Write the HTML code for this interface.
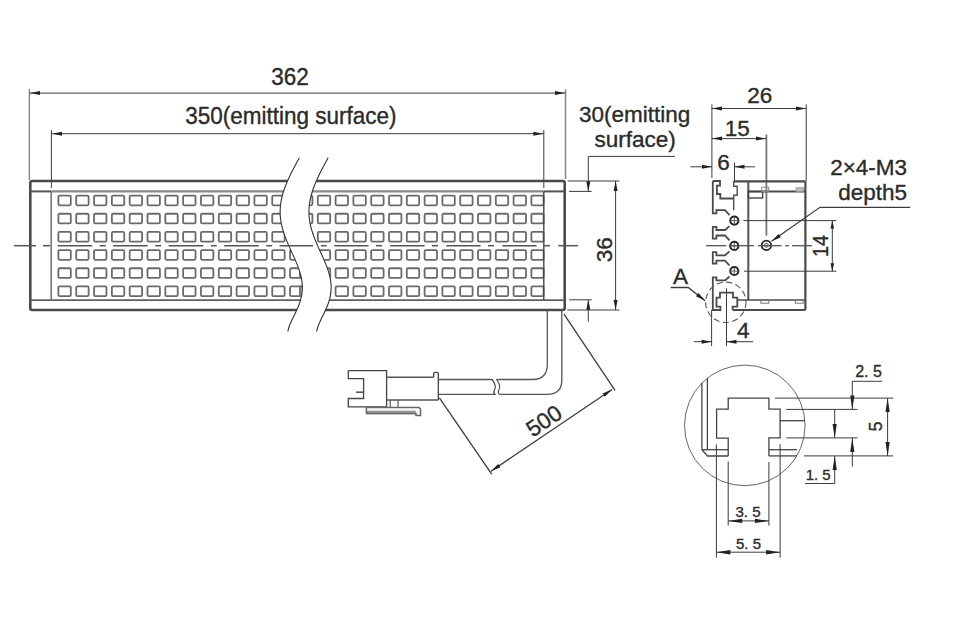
<!DOCTYPE html>
<html><head><meta charset="utf-8"><style>
html,body{margin:0;padding:0;background:#fff;}
svg{display:block;}
text{font-family:"Liberation Sans",sans-serif;}
</style></head><body>
<svg width="957" height="639" viewBox="0 0 957 639">
<rect width="957" height="639" fill="#fff"/>
<line x1="29.30" y1="89.00" x2="29.30" y2="180.00" stroke="#5a5a5a" stroke-width="1.0" />
<line x1="565.50" y1="89.40" x2="565.50" y2="179.00" stroke="#8a8a8a" stroke-width="1.6" />
<line x1="29.30" y1="93.10" x2="565.50" y2="93.10" stroke="#3c3c3c" stroke-width="1.0" />
<path d="M30.00,93.10 L40.00,91.10 L40.00,95.10 Z" fill="#222"/>
<path d="M565.00,93.10 L555.00,95.10 L555.00,91.10 Z" fill="#222"/>
<text transform="translate(290 85.4) scale(1 1.08)" font-size="22.5" text-anchor="middle" fill="#2b2b2b" stroke="#2b2b2b" stroke-width="0.35" >362</text>
<line x1="51.40" y1="130.00" x2="51.40" y2="188.00" stroke="#3c3c3c" stroke-width="1.0" />
<line x1="543.80" y1="130.00" x2="543.80" y2="188.00" stroke="#3c3c3c" stroke-width="1.0" />
<line x1="51.40" y1="133.70" x2="543.80" y2="133.70" stroke="#3c3c3c" stroke-width="1.0" />
<path d="M52.00,133.70 L62.00,131.70 L62.00,135.70 Z" fill="#222"/>
<path d="M543.30,133.70 L533.30,135.70 L533.30,131.70 Z" fill="#222"/>
<text transform="translate(290.8 124.0) scale(1 1.05)" font-size="22.5" text-anchor="middle" fill="#2b2b2b" stroke="#2b2b2b" stroke-width="0.35" >350(emitting surface)</text>
<rect x="58.40" y="195.60" width="12.40" height="9.7" rx="1.2" fill="none" stroke="#6a6a6a" stroke-width="1.8"/>
<rect x="76.22" y="195.60" width="12.40" height="9.7" rx="1.2" fill="none" stroke="#6a6a6a" stroke-width="1.8"/>
<rect x="94.04" y="195.60" width="12.40" height="9.7" rx="1.2" fill="none" stroke="#6a6a6a" stroke-width="1.8"/>
<rect x="111.86" y="195.60" width="12.40" height="9.7" rx="1.2" fill="none" stroke="#6a6a6a" stroke-width="1.8"/>
<rect x="129.68" y="195.60" width="12.40" height="9.7" rx="1.2" fill="none" stroke="#6a6a6a" stroke-width="1.8"/>
<rect x="147.50" y="195.60" width="12.40" height="9.7" rx="1.2" fill="none" stroke="#6a6a6a" stroke-width="1.8"/>
<rect x="165.32" y="195.60" width="12.40" height="9.7" rx="1.2" fill="none" stroke="#6a6a6a" stroke-width="1.8"/>
<rect x="183.14" y="195.60" width="12.40" height="9.7" rx="1.2" fill="none" stroke="#6a6a6a" stroke-width="1.8"/>
<rect x="200.96" y="195.60" width="12.40" height="9.7" rx="1.2" fill="none" stroke="#6a6a6a" stroke-width="1.8"/>
<rect x="218.78" y="195.60" width="12.40" height="9.7" rx="1.2" fill="none" stroke="#6a6a6a" stroke-width="1.8"/>
<rect x="236.60" y="195.60" width="12.40" height="9.7" rx="1.2" fill="none" stroke="#6a6a6a" stroke-width="1.8"/>
<rect x="254.42" y="195.60" width="12.40" height="9.7" rx="1.2" fill="none" stroke="#6a6a6a" stroke-width="1.8"/>
<rect x="272.24" y="195.60" width="12.40" height="9.7" rx="1.2" fill="none" stroke="#6a6a6a" stroke-width="1.8"/>
<rect x="290.06" y="195.60" width="12.40" height="9.7" rx="1.2" fill="none" stroke="#6a6a6a" stroke-width="1.8"/>
<rect x="300.00" y="195.60" width="12.40" height="9.7" rx="1.2" fill="none" stroke="#6a6a6a" stroke-width="1.8"/>
<rect x="317.80" y="195.60" width="12.40" height="9.7" rx="1.2" fill="none" stroke="#6a6a6a" stroke-width="1.8"/>
<rect x="335.60" y="195.60" width="12.40" height="9.7" rx="1.2" fill="none" stroke="#6a6a6a" stroke-width="1.8"/>
<rect x="353.40" y="195.60" width="12.40" height="9.7" rx="1.2" fill="none" stroke="#6a6a6a" stroke-width="1.8"/>
<rect x="371.20" y="195.60" width="12.40" height="9.7" rx="1.2" fill="none" stroke="#6a6a6a" stroke-width="1.8"/>
<rect x="389.00" y="195.60" width="12.40" height="9.7" rx="1.2" fill="none" stroke="#6a6a6a" stroke-width="1.8"/>
<rect x="406.80" y="195.60" width="12.40" height="9.7" rx="1.2" fill="none" stroke="#6a6a6a" stroke-width="1.8"/>
<rect x="424.60" y="195.60" width="12.40" height="9.7" rx="1.2" fill="none" stroke="#6a6a6a" stroke-width="1.8"/>
<rect x="442.40" y="195.60" width="12.40" height="9.7" rx="1.2" fill="none" stroke="#6a6a6a" stroke-width="1.8"/>
<rect x="460.20" y="195.60" width="12.40" height="9.7" rx="1.2" fill="none" stroke="#6a6a6a" stroke-width="1.8"/>
<rect x="478.00" y="195.60" width="12.40" height="9.7" rx="1.2" fill="none" stroke="#6a6a6a" stroke-width="1.8"/>
<rect x="495.80" y="195.60" width="12.40" height="9.7" rx="1.2" fill="none" stroke="#6a6a6a" stroke-width="1.8"/>
<rect x="513.60" y="195.60" width="12.40" height="9.7" rx="1.2" fill="none" stroke="#6a6a6a" stroke-width="1.8"/>
<rect x="531.40" y="195.60" width="12.20" height="9.7" rx="1.2" fill="none" stroke="#6a6a6a" stroke-width="1.8"/>
<rect x="58.40" y="213.76" width="12.40" height="9.7" rx="1.2" fill="none" stroke="#6a6a6a" stroke-width="1.8"/>
<rect x="76.22" y="213.76" width="12.40" height="9.7" rx="1.2" fill="none" stroke="#6a6a6a" stroke-width="1.8"/>
<rect x="94.04" y="213.76" width="12.40" height="9.7" rx="1.2" fill="none" stroke="#6a6a6a" stroke-width="1.8"/>
<rect x="111.86" y="213.76" width="12.40" height="9.7" rx="1.2" fill="none" stroke="#6a6a6a" stroke-width="1.8"/>
<rect x="129.68" y="213.76" width="12.40" height="9.7" rx="1.2" fill="none" stroke="#6a6a6a" stroke-width="1.8"/>
<rect x="147.50" y="213.76" width="12.40" height="9.7" rx="1.2" fill="none" stroke="#6a6a6a" stroke-width="1.8"/>
<rect x="165.32" y="213.76" width="12.40" height="9.7" rx="1.2" fill="none" stroke="#6a6a6a" stroke-width="1.8"/>
<rect x="183.14" y="213.76" width="12.40" height="9.7" rx="1.2" fill="none" stroke="#6a6a6a" stroke-width="1.8"/>
<rect x="200.96" y="213.76" width="12.40" height="9.7" rx="1.2" fill="none" stroke="#6a6a6a" stroke-width="1.8"/>
<rect x="218.78" y="213.76" width="12.40" height="9.7" rx="1.2" fill="none" stroke="#6a6a6a" stroke-width="1.8"/>
<rect x="236.60" y="213.76" width="12.40" height="9.7" rx="1.2" fill="none" stroke="#6a6a6a" stroke-width="1.8"/>
<rect x="254.42" y="213.76" width="12.40" height="9.7" rx="1.2" fill="none" stroke="#6a6a6a" stroke-width="1.8"/>
<rect x="272.24" y="213.76" width="12.40" height="9.7" rx="1.2" fill="none" stroke="#6a6a6a" stroke-width="1.8"/>
<rect x="290.06" y="213.76" width="12.40" height="9.7" rx="1.2" fill="none" stroke="#6a6a6a" stroke-width="1.8"/>
<rect x="300.00" y="213.76" width="12.40" height="9.7" rx="1.2" fill="none" stroke="#6a6a6a" stroke-width="1.8"/>
<rect x="317.80" y="213.76" width="12.40" height="9.7" rx="1.2" fill="none" stroke="#6a6a6a" stroke-width="1.8"/>
<rect x="335.60" y="213.76" width="12.40" height="9.7" rx="1.2" fill="none" stroke="#6a6a6a" stroke-width="1.8"/>
<rect x="353.40" y="213.76" width="12.40" height="9.7" rx="1.2" fill="none" stroke="#6a6a6a" stroke-width="1.8"/>
<rect x="371.20" y="213.76" width="12.40" height="9.7" rx="1.2" fill="none" stroke="#6a6a6a" stroke-width="1.8"/>
<rect x="389.00" y="213.76" width="12.40" height="9.7" rx="1.2" fill="none" stroke="#6a6a6a" stroke-width="1.8"/>
<rect x="406.80" y="213.76" width="12.40" height="9.7" rx="1.2" fill="none" stroke="#6a6a6a" stroke-width="1.8"/>
<rect x="424.60" y="213.76" width="12.40" height="9.7" rx="1.2" fill="none" stroke="#6a6a6a" stroke-width="1.8"/>
<rect x="442.40" y="213.76" width="12.40" height="9.7" rx="1.2" fill="none" stroke="#6a6a6a" stroke-width="1.8"/>
<rect x="460.20" y="213.76" width="12.40" height="9.7" rx="1.2" fill="none" stroke="#6a6a6a" stroke-width="1.8"/>
<rect x="478.00" y="213.76" width="12.40" height="9.7" rx="1.2" fill="none" stroke="#6a6a6a" stroke-width="1.8"/>
<rect x="495.80" y="213.76" width="12.40" height="9.7" rx="1.2" fill="none" stroke="#6a6a6a" stroke-width="1.8"/>
<rect x="513.60" y="213.76" width="12.40" height="9.7" rx="1.2" fill="none" stroke="#6a6a6a" stroke-width="1.8"/>
<rect x="531.40" y="213.76" width="12.20" height="9.7" rx="1.2" fill="none" stroke="#6a6a6a" stroke-width="1.8"/>
<rect x="58.40" y="231.92" width="12.40" height="9.7" rx="1.2" fill="none" stroke="#6a6a6a" stroke-width="1.8"/>
<rect x="76.22" y="231.92" width="12.40" height="9.7" rx="1.2" fill="none" stroke="#6a6a6a" stroke-width="1.8"/>
<rect x="94.04" y="231.92" width="12.40" height="9.7" rx="1.2" fill="none" stroke="#6a6a6a" stroke-width="1.8"/>
<rect x="111.86" y="231.92" width="12.40" height="9.7" rx="1.2" fill="none" stroke="#6a6a6a" stroke-width="1.8"/>
<rect x="129.68" y="231.92" width="12.40" height="9.7" rx="1.2" fill="none" stroke="#6a6a6a" stroke-width="1.8"/>
<rect x="147.50" y="231.92" width="12.40" height="9.7" rx="1.2" fill="none" stroke="#6a6a6a" stroke-width="1.8"/>
<rect x="165.32" y="231.92" width="12.40" height="9.7" rx="1.2" fill="none" stroke="#6a6a6a" stroke-width="1.8"/>
<rect x="183.14" y="231.92" width="12.40" height="9.7" rx="1.2" fill="none" stroke="#6a6a6a" stroke-width="1.8"/>
<rect x="200.96" y="231.92" width="12.40" height="9.7" rx="1.2" fill="none" stroke="#6a6a6a" stroke-width="1.8"/>
<rect x="218.78" y="231.92" width="12.40" height="9.7" rx="1.2" fill="none" stroke="#6a6a6a" stroke-width="1.8"/>
<rect x="236.60" y="231.92" width="12.40" height="9.7" rx="1.2" fill="none" stroke="#6a6a6a" stroke-width="1.8"/>
<rect x="254.42" y="231.92" width="12.40" height="9.7" rx="1.2" fill="none" stroke="#6a6a6a" stroke-width="1.8"/>
<rect x="272.24" y="231.92" width="12.40" height="9.7" rx="1.2" fill="none" stroke="#6a6a6a" stroke-width="1.8"/>
<rect x="290.06" y="231.92" width="12.40" height="9.7" rx="1.2" fill="none" stroke="#6a6a6a" stroke-width="1.8"/>
<rect x="300.00" y="231.92" width="12.40" height="9.7" rx="1.2" fill="none" stroke="#6a6a6a" stroke-width="1.8"/>
<rect x="317.80" y="231.92" width="12.40" height="9.7" rx="1.2" fill="none" stroke="#6a6a6a" stroke-width="1.8"/>
<rect x="335.60" y="231.92" width="12.40" height="9.7" rx="1.2" fill="none" stroke="#6a6a6a" stroke-width="1.8"/>
<rect x="353.40" y="231.92" width="12.40" height="9.7" rx="1.2" fill="none" stroke="#6a6a6a" stroke-width="1.8"/>
<rect x="371.20" y="231.92" width="12.40" height="9.7" rx="1.2" fill="none" stroke="#6a6a6a" stroke-width="1.8"/>
<rect x="389.00" y="231.92" width="12.40" height="9.7" rx="1.2" fill="none" stroke="#6a6a6a" stroke-width="1.8"/>
<rect x="406.80" y="231.92" width="12.40" height="9.7" rx="1.2" fill="none" stroke="#6a6a6a" stroke-width="1.8"/>
<rect x="424.60" y="231.92" width="12.40" height="9.7" rx="1.2" fill="none" stroke="#6a6a6a" stroke-width="1.8"/>
<rect x="442.40" y="231.92" width="12.40" height="9.7" rx="1.2" fill="none" stroke="#6a6a6a" stroke-width="1.8"/>
<rect x="460.20" y="231.92" width="12.40" height="9.7" rx="1.2" fill="none" stroke="#6a6a6a" stroke-width="1.8"/>
<rect x="478.00" y="231.92" width="12.40" height="9.7" rx="1.2" fill="none" stroke="#6a6a6a" stroke-width="1.8"/>
<rect x="495.80" y="231.92" width="12.40" height="9.7" rx="1.2" fill="none" stroke="#6a6a6a" stroke-width="1.8"/>
<rect x="513.60" y="231.92" width="12.40" height="9.7" rx="1.2" fill="none" stroke="#6a6a6a" stroke-width="1.8"/>
<rect x="531.40" y="231.92" width="12.20" height="9.7" rx="1.2" fill="none" stroke="#6a6a6a" stroke-width="1.8"/>
<rect x="58.40" y="250.08" width="12.40" height="9.7" rx="1.2" fill="none" stroke="#6a6a6a" stroke-width="1.8"/>
<rect x="76.22" y="250.08" width="12.40" height="9.7" rx="1.2" fill="none" stroke="#6a6a6a" stroke-width="1.8"/>
<rect x="94.04" y="250.08" width="12.40" height="9.7" rx="1.2" fill="none" stroke="#6a6a6a" stroke-width="1.8"/>
<rect x="111.86" y="250.08" width="12.40" height="9.7" rx="1.2" fill="none" stroke="#6a6a6a" stroke-width="1.8"/>
<rect x="129.68" y="250.08" width="12.40" height="9.7" rx="1.2" fill="none" stroke="#6a6a6a" stroke-width="1.8"/>
<rect x="147.50" y="250.08" width="12.40" height="9.7" rx="1.2" fill="none" stroke="#6a6a6a" stroke-width="1.8"/>
<rect x="165.32" y="250.08" width="12.40" height="9.7" rx="1.2" fill="none" stroke="#6a6a6a" stroke-width="1.8"/>
<rect x="183.14" y="250.08" width="12.40" height="9.7" rx="1.2" fill="none" stroke="#6a6a6a" stroke-width="1.8"/>
<rect x="200.96" y="250.08" width="12.40" height="9.7" rx="1.2" fill="none" stroke="#6a6a6a" stroke-width="1.8"/>
<rect x="218.78" y="250.08" width="12.40" height="9.7" rx="1.2" fill="none" stroke="#6a6a6a" stroke-width="1.8"/>
<rect x="236.60" y="250.08" width="12.40" height="9.7" rx="1.2" fill="none" stroke="#6a6a6a" stroke-width="1.8"/>
<rect x="254.42" y="250.08" width="12.40" height="9.7" rx="1.2" fill="none" stroke="#6a6a6a" stroke-width="1.8"/>
<rect x="272.24" y="250.08" width="12.40" height="9.7" rx="1.2" fill="none" stroke="#6a6a6a" stroke-width="1.8"/>
<rect x="290.06" y="250.08" width="12.40" height="9.7" rx="1.2" fill="none" stroke="#6a6a6a" stroke-width="1.8"/>
<rect x="300.00" y="250.08" width="12.40" height="9.7" rx="1.2" fill="none" stroke="#6a6a6a" stroke-width="1.8"/>
<rect x="317.80" y="250.08" width="12.40" height="9.7" rx="1.2" fill="none" stroke="#6a6a6a" stroke-width="1.8"/>
<rect x="335.60" y="250.08" width="12.40" height="9.7" rx="1.2" fill="none" stroke="#6a6a6a" stroke-width="1.8"/>
<rect x="353.40" y="250.08" width="12.40" height="9.7" rx="1.2" fill="none" stroke="#6a6a6a" stroke-width="1.8"/>
<rect x="371.20" y="250.08" width="12.40" height="9.7" rx="1.2" fill="none" stroke="#6a6a6a" stroke-width="1.8"/>
<rect x="389.00" y="250.08" width="12.40" height="9.7" rx="1.2" fill="none" stroke="#6a6a6a" stroke-width="1.8"/>
<rect x="406.80" y="250.08" width="12.40" height="9.7" rx="1.2" fill="none" stroke="#6a6a6a" stroke-width="1.8"/>
<rect x="424.60" y="250.08" width="12.40" height="9.7" rx="1.2" fill="none" stroke="#6a6a6a" stroke-width="1.8"/>
<rect x="442.40" y="250.08" width="12.40" height="9.7" rx="1.2" fill="none" stroke="#6a6a6a" stroke-width="1.8"/>
<rect x="460.20" y="250.08" width="12.40" height="9.7" rx="1.2" fill="none" stroke="#6a6a6a" stroke-width="1.8"/>
<rect x="478.00" y="250.08" width="12.40" height="9.7" rx="1.2" fill="none" stroke="#6a6a6a" stroke-width="1.8"/>
<rect x="495.80" y="250.08" width="12.40" height="9.7" rx="1.2" fill="none" stroke="#6a6a6a" stroke-width="1.8"/>
<rect x="513.60" y="250.08" width="12.40" height="9.7" rx="1.2" fill="none" stroke="#6a6a6a" stroke-width="1.8"/>
<rect x="531.40" y="250.08" width="12.20" height="9.7" rx="1.2" fill="none" stroke="#6a6a6a" stroke-width="1.8"/>
<rect x="58.40" y="268.24" width="12.40" height="9.7" rx="1.2" fill="none" stroke="#6a6a6a" stroke-width="1.8"/>
<rect x="76.22" y="268.24" width="12.40" height="9.7" rx="1.2" fill="none" stroke="#6a6a6a" stroke-width="1.8"/>
<rect x="94.04" y="268.24" width="12.40" height="9.7" rx="1.2" fill="none" stroke="#6a6a6a" stroke-width="1.8"/>
<rect x="111.86" y="268.24" width="12.40" height="9.7" rx="1.2" fill="none" stroke="#6a6a6a" stroke-width="1.8"/>
<rect x="129.68" y="268.24" width="12.40" height="9.7" rx="1.2" fill="none" stroke="#6a6a6a" stroke-width="1.8"/>
<rect x="147.50" y="268.24" width="12.40" height="9.7" rx="1.2" fill="none" stroke="#6a6a6a" stroke-width="1.8"/>
<rect x="165.32" y="268.24" width="12.40" height="9.7" rx="1.2" fill="none" stroke="#6a6a6a" stroke-width="1.8"/>
<rect x="183.14" y="268.24" width="12.40" height="9.7" rx="1.2" fill="none" stroke="#6a6a6a" stroke-width="1.8"/>
<rect x="200.96" y="268.24" width="12.40" height="9.7" rx="1.2" fill="none" stroke="#6a6a6a" stroke-width="1.8"/>
<rect x="218.78" y="268.24" width="12.40" height="9.7" rx="1.2" fill="none" stroke="#6a6a6a" stroke-width="1.8"/>
<rect x="236.60" y="268.24" width="12.40" height="9.7" rx="1.2" fill="none" stroke="#6a6a6a" stroke-width="1.8"/>
<rect x="254.42" y="268.24" width="12.40" height="9.7" rx="1.2" fill="none" stroke="#6a6a6a" stroke-width="1.8"/>
<rect x="272.24" y="268.24" width="12.40" height="9.7" rx="1.2" fill="none" stroke="#6a6a6a" stroke-width="1.8"/>
<rect x="290.06" y="268.24" width="12.40" height="9.7" rx="1.2" fill="none" stroke="#6a6a6a" stroke-width="1.8"/>
<rect x="300.00" y="268.24" width="12.40" height="9.7" rx="1.2" fill="none" stroke="#6a6a6a" stroke-width="1.8"/>
<rect x="317.80" y="268.24" width="12.40" height="9.7" rx="1.2" fill="none" stroke="#6a6a6a" stroke-width="1.8"/>
<rect x="335.60" y="268.24" width="12.40" height="9.7" rx="1.2" fill="none" stroke="#6a6a6a" stroke-width="1.8"/>
<rect x="353.40" y="268.24" width="12.40" height="9.7" rx="1.2" fill="none" stroke="#6a6a6a" stroke-width="1.8"/>
<rect x="371.20" y="268.24" width="12.40" height="9.7" rx="1.2" fill="none" stroke="#6a6a6a" stroke-width="1.8"/>
<rect x="389.00" y="268.24" width="12.40" height="9.7" rx="1.2" fill="none" stroke="#6a6a6a" stroke-width="1.8"/>
<rect x="406.80" y="268.24" width="12.40" height="9.7" rx="1.2" fill="none" stroke="#6a6a6a" stroke-width="1.8"/>
<rect x="424.60" y="268.24" width="12.40" height="9.7" rx="1.2" fill="none" stroke="#6a6a6a" stroke-width="1.8"/>
<rect x="442.40" y="268.24" width="12.40" height="9.7" rx="1.2" fill="none" stroke="#6a6a6a" stroke-width="1.8"/>
<rect x="460.20" y="268.24" width="12.40" height="9.7" rx="1.2" fill="none" stroke="#6a6a6a" stroke-width="1.8"/>
<rect x="478.00" y="268.24" width="12.40" height="9.7" rx="1.2" fill="none" stroke="#6a6a6a" stroke-width="1.8"/>
<rect x="495.80" y="268.24" width="12.40" height="9.7" rx="1.2" fill="none" stroke="#6a6a6a" stroke-width="1.8"/>
<rect x="513.60" y="268.24" width="12.40" height="9.7" rx="1.2" fill="none" stroke="#6a6a6a" stroke-width="1.8"/>
<rect x="531.40" y="268.24" width="12.20" height="9.7" rx="1.2" fill="none" stroke="#6a6a6a" stroke-width="1.8"/>
<rect x="58.40" y="286.40" width="12.40" height="9.7" rx="1.2" fill="none" stroke="#6a6a6a" stroke-width="1.8"/>
<rect x="76.22" y="286.40" width="12.40" height="9.7" rx="1.2" fill="none" stroke="#6a6a6a" stroke-width="1.8"/>
<rect x="94.04" y="286.40" width="12.40" height="9.7" rx="1.2" fill="none" stroke="#6a6a6a" stroke-width="1.8"/>
<rect x="111.86" y="286.40" width="12.40" height="9.7" rx="1.2" fill="none" stroke="#6a6a6a" stroke-width="1.8"/>
<rect x="129.68" y="286.40" width="12.40" height="9.7" rx="1.2" fill="none" stroke="#6a6a6a" stroke-width="1.8"/>
<rect x="147.50" y="286.40" width="12.40" height="9.7" rx="1.2" fill="none" stroke="#6a6a6a" stroke-width="1.8"/>
<rect x="165.32" y="286.40" width="12.40" height="9.7" rx="1.2" fill="none" stroke="#6a6a6a" stroke-width="1.8"/>
<rect x="183.14" y="286.40" width="12.40" height="9.7" rx="1.2" fill="none" stroke="#6a6a6a" stroke-width="1.8"/>
<rect x="200.96" y="286.40" width="12.40" height="9.7" rx="1.2" fill="none" stroke="#6a6a6a" stroke-width="1.8"/>
<rect x="218.78" y="286.40" width="12.40" height="9.7" rx="1.2" fill="none" stroke="#6a6a6a" stroke-width="1.8"/>
<rect x="236.60" y="286.40" width="12.40" height="9.7" rx="1.2" fill="none" stroke="#6a6a6a" stroke-width="1.8"/>
<rect x="254.42" y="286.40" width="12.40" height="9.7" rx="1.2" fill="none" stroke="#6a6a6a" stroke-width="1.8"/>
<rect x="272.24" y="286.40" width="12.40" height="9.7" rx="1.2" fill="none" stroke="#6a6a6a" stroke-width="1.8"/>
<rect x="290.06" y="286.40" width="12.40" height="9.7" rx="1.2" fill="none" stroke="#6a6a6a" stroke-width="1.8"/>
<rect x="300.00" y="286.40" width="12.40" height="9.7" rx="1.2" fill="none" stroke="#6a6a6a" stroke-width="1.8"/>
<rect x="317.80" y="286.40" width="12.40" height="9.7" rx="1.2" fill="none" stroke="#6a6a6a" stroke-width="1.8"/>
<rect x="335.60" y="286.40" width="12.40" height="9.7" rx="1.2" fill="none" stroke="#6a6a6a" stroke-width="1.8"/>
<rect x="353.40" y="286.40" width="12.40" height="9.7" rx="1.2" fill="none" stroke="#6a6a6a" stroke-width="1.8"/>
<rect x="371.20" y="286.40" width="12.40" height="9.7" rx="1.2" fill="none" stroke="#6a6a6a" stroke-width="1.8"/>
<rect x="389.00" y="286.40" width="12.40" height="9.7" rx="1.2" fill="none" stroke="#6a6a6a" stroke-width="1.8"/>
<rect x="406.80" y="286.40" width="12.40" height="9.7" rx="1.2" fill="none" stroke="#6a6a6a" stroke-width="1.8"/>
<rect x="424.60" y="286.40" width="12.40" height="9.7" rx="1.2" fill="none" stroke="#6a6a6a" stroke-width="1.8"/>
<rect x="442.40" y="286.40" width="12.40" height="9.7" rx="1.2" fill="none" stroke="#6a6a6a" stroke-width="1.8"/>
<rect x="460.20" y="286.40" width="12.40" height="9.7" rx="1.2" fill="none" stroke="#6a6a6a" stroke-width="1.8"/>
<rect x="478.00" y="286.40" width="12.40" height="9.7" rx="1.2" fill="none" stroke="#6a6a6a" stroke-width="1.8"/>
<rect x="495.80" y="286.40" width="12.40" height="9.7" rx="1.2" fill="none" stroke="#6a6a6a" stroke-width="1.8"/>
<rect x="513.60" y="286.40" width="12.40" height="9.7" rx="1.2" fill="none" stroke="#6a6a6a" stroke-width="1.8"/>
<rect x="531.40" y="286.40" width="12.20" height="9.7" rx="1.2" fill="none" stroke="#6a6a6a" stroke-width="1.8"/>
<path d="M30.3,183 Q30.3,181 32.3,181 L562.7,181 Q564.7,181 564.7,183 L564.7,308 Q564.7,310 562.7,310 L32.3,310 Q30.3,310 30.3,308 Z" stroke="#4a4a4a" stroke-width="2.6" fill="none" />
<line x1="30.30" y1="191.40" x2="51.20" y2="191.40" stroke="#555" stroke-width="2.0" />
<line x1="51.20" y1="191.40" x2="543.80" y2="191.40" stroke="#8a8a8a" stroke-width="2.2" />
<line x1="543.80" y1="191.40" x2="564.70" y2="191.40" stroke="#555" stroke-width="2.0" />
<line x1="30.30" y1="300.10" x2="564.70" y2="300.10" stroke="#606060" stroke-width="1.9" />
<line x1="51.20" y1="191.40" x2="51.20" y2="300.10" stroke="#707070" stroke-width="1.5" />
<line x1="543.80" y1="191.40" x2="543.80" y2="300.10" stroke="#444" stroke-width="1.4" />
<path d="M299.39,157.80 C298.84,158.80 297.15,161.79 296.07,163.79 C294.99,165.79 293.93,167.78 292.90,169.78 C291.88,171.78 290.88,173.77 289.93,175.77 C288.98,177.77 288.06,179.76 287.21,181.76 C286.35,183.76 285.55,185.75 284.82,187.75 C284.09,189.74 283.43,191.74 282.85,193.74 C282.28,195.73 281.78,197.73 281.38,199.73 C280.98,201.72 280.67,203.72 280.46,205.72 C280.25,207.71 280.14,209.71 280.14,211.71 C280.13,213.70 280.23,215.70 280.43,217.70 C280.63,219.69 280.93,221.69 281.32,223.69 C281.71,225.68 282.21,227.68 282.78,229.68 C283.34,231.67 284.01,233.67 284.72,235.67 C285.44,237.66 286.24,239.66 287.06,241.66 C287.89,243.65 288.78,245.65 289.67,247.64 C290.56,249.64 291.50,251.64 292.40,253.63 C293.31,255.63 294.24,257.63 295.10,259.62 C295.96,261.62 296.82,263.62 297.59,265.61 C298.35,267.61 299.08,269.61 299.69,271.60 C300.31,273.60 300.85,275.60 301.27,277.59 C301.68,279.59 302.00,281.59 302.17,283.58 C302.34,285.58 302.39,287.58 302.29,289.57 C302.20,291.57 301.96,293.57 301.59,295.56 C301.22,297.56 300.70,299.56 300.08,301.55 C299.45,303.55 298.68,305.54 297.85,307.54 C297.02,309.54 296.05,311.53 295.10,313.53 C294.16,315.53 293.10,317.52 292.17,319.52 C291.24,321.52 290.25,323.51 289.51,325.51 C288.78,327.51 288.06,330.50 287.77,331.50 L316.57,331.50 C316.86,330.50 317.58,327.51 318.31,325.51 C319.05,323.51 320.04,321.52 320.97,319.52 C321.90,317.52 322.96,315.53 323.90,313.53 C324.85,311.53 325.82,309.54 326.65,307.54 C327.48,305.54 328.25,303.55 328.88,301.55 C329.50,299.56 330.02,297.56 330.39,295.56 C330.76,293.57 331.00,291.57 331.09,289.57 C331.19,287.58 331.14,285.58 330.97,283.58 C330.80,281.59 330.48,279.59 330.07,277.59 C329.65,275.60 329.11,273.60 328.49,271.60 C327.88,269.61 327.15,267.61 326.39,265.61 C325.62,263.62 324.76,261.62 323.90,259.62 C323.04,257.63 322.11,255.63 321.20,253.63 C320.30,251.64 319.36,249.64 318.47,247.64 C317.58,245.65 316.69,243.65 315.86,241.66 C315.04,239.66 314.24,237.66 313.52,235.67 C312.81,233.67 312.14,231.67 311.58,229.68 C311.01,227.68 310.51,225.68 310.12,223.69 C309.73,221.69 309.43,219.69 309.23,217.70 C309.03,215.70 308.93,213.70 308.94,211.71 C308.94,209.71 309.05,207.71 309.26,205.72 C309.47,203.72 309.78,201.72 310.18,199.73 C310.58,197.73 311.08,195.73 311.65,193.74 C312.23,191.74 312.89,189.74 313.62,187.75 C314.35,185.75 315.15,183.76 316.01,181.76 C316.86,179.76 317.78,177.77 318.73,175.77 C319.68,173.77 320.68,171.78 321.70,169.78 C322.73,167.78 323.79,165.79 324.87,163.79 C325.95,161.79 327.64,158.80 328.19,157.80 Z" fill="#fff" stroke="none"/>
<path d="M299.39,157.80 C298.84,158.80 297.15,161.79 296.07,163.79 C294.99,165.79 293.93,167.78 292.90,169.78 C291.88,171.78 290.88,173.77 289.93,175.77 C288.98,177.77 288.06,179.76 287.21,181.76 C286.35,183.76 285.55,185.75 284.82,187.75 C284.09,189.74 283.43,191.74 282.85,193.74 C282.28,195.73 281.78,197.73 281.38,199.73 C280.98,201.72 280.67,203.72 280.46,205.72 C280.25,207.71 280.14,209.71 280.14,211.71 C280.13,213.70 280.23,215.70 280.43,217.70 C280.63,219.69 280.93,221.69 281.32,223.69 C281.71,225.68 282.21,227.68 282.78,229.68 C283.34,231.67 284.01,233.67 284.72,235.67 C285.44,237.66 286.24,239.66 287.06,241.66 C287.89,243.65 288.78,245.65 289.67,247.64 C290.56,249.64 291.50,251.64 292.40,253.63 C293.31,255.63 294.24,257.63 295.10,259.62 C295.96,261.62 296.82,263.62 297.59,265.61 C298.35,267.61 299.08,269.61 299.69,271.60 C300.31,273.60 300.85,275.60 301.27,277.59 C301.68,279.59 302.00,281.59 302.17,283.58 C302.34,285.58 302.39,287.58 302.29,289.57 C302.20,291.57 301.96,293.57 301.59,295.56 C301.22,297.56 300.70,299.56 300.08,301.55 C299.45,303.55 298.68,305.54 297.85,307.54 C297.02,309.54 296.05,311.53 295.10,313.53 C294.16,315.53 293.10,317.52 292.17,319.52 C291.24,321.52 290.25,323.51 289.51,325.51 C288.78,327.51 288.06,330.50 287.77,331.50" stroke="#333" stroke-width="1.1" fill="none" />
<path d="M328.19,157.80 C327.64,158.80 325.95,161.79 324.87,163.79 C323.79,165.79 322.73,167.78 321.70,169.78 C320.68,171.78 319.68,173.77 318.73,175.77 C317.78,177.77 316.86,179.76 316.01,181.76 C315.15,183.76 314.35,185.75 313.62,187.75 C312.89,189.74 312.23,191.74 311.65,193.74 C311.08,195.73 310.58,197.73 310.18,199.73 C309.78,201.72 309.47,203.72 309.26,205.72 C309.05,207.71 308.94,209.71 308.94,211.71 C308.93,213.70 309.03,215.70 309.23,217.70 C309.43,219.69 309.73,221.69 310.12,223.69 C310.51,225.68 311.01,227.68 311.58,229.68 C312.14,231.67 312.81,233.67 313.52,235.67 C314.24,237.66 315.04,239.66 315.86,241.66 C316.69,243.65 317.58,245.65 318.47,247.64 C319.36,249.64 320.30,251.64 321.20,253.63 C322.11,255.63 323.04,257.63 323.90,259.62 C324.76,261.62 325.62,263.62 326.39,265.61 C327.15,267.61 327.88,269.61 328.49,271.60 C329.11,273.60 329.65,275.60 330.07,277.59 C330.48,279.59 330.80,281.59 330.97,283.58 C331.14,285.58 331.19,287.58 331.09,289.57 C331.00,291.57 330.76,293.57 330.39,295.56 C330.02,297.56 329.50,299.56 328.88,301.55 C328.25,303.55 327.48,305.54 326.65,307.54 C325.82,309.54 324.85,311.53 323.90,313.53 C322.96,315.53 321.90,317.52 320.97,319.52 C320.04,321.52 319.05,323.51 318.31,325.51 C317.58,327.51 316.86,330.50 316.57,331.50" stroke="#333" stroke-width="1.1" fill="none" />
<line x1="14.00" y1="245.70" x2="36.00" y2="245.70" stroke="#555" stroke-width="1.5" />
<line x1="43.00" y1="245.70" x2="50.20" y2="245.70" stroke="#555" stroke-width="1.5" />
<line x1="57.70" y1="245.70" x2="92.20" y2="245.70" stroke="#555" stroke-width="1.5" />
<line x1="99.70" y1="245.70" x2="105.70" y2="245.70" stroke="#555" stroke-width="1.5" />
<line x1="113.20" y1="245.70" x2="147.70" y2="245.70" stroke="#555" stroke-width="1.5" />
<line x1="155.20" y1="245.70" x2="161.20" y2="245.70" stroke="#555" stroke-width="1.5" />
<line x1="168.70" y1="245.70" x2="203.20" y2="245.70" stroke="#555" stroke-width="1.5" />
<line x1="210.70" y1="245.70" x2="216.70" y2="245.70" stroke="#555" stroke-width="1.5" />
<line x1="224.20" y1="245.70" x2="258.70" y2="245.70" stroke="#555" stroke-width="1.5" />
<line x1="266.20" y1="245.70" x2="272.20" y2="245.70" stroke="#555" stroke-width="1.5" />
<line x1="279.60" y1="245.70" x2="313.00" y2="245.70" stroke="#555" stroke-width="1.5" />
<line x1="320.90" y1="245.70" x2="326.80" y2="245.70" stroke="#555" stroke-width="1.5" />
<line x1="334.30" y1="245.70" x2="368.60" y2="245.70" stroke="#555" stroke-width="1.5" />
<line x1="376.00" y1="245.70" x2="382.00" y2="245.70" stroke="#555" stroke-width="1.5" />
<line x1="390.30" y1="245.70" x2="424.60" y2="245.70" stroke="#555" stroke-width="1.5" />
<line x1="432.00" y1="245.70" x2="438.00" y2="245.70" stroke="#555" stroke-width="1.5" />
<line x1="446.30" y1="245.70" x2="480.60" y2="245.70" stroke="#555" stroke-width="1.5" />
<line x1="488.00" y1="245.70" x2="494.00" y2="245.70" stroke="#555" stroke-width="1.5" />
<line x1="502.30" y1="245.70" x2="536.60" y2="245.70" stroke="#555" stroke-width="1.5" />
<line x1="544.00" y1="245.70" x2="550.00" y2="245.70" stroke="#555" stroke-width="1.5" />
<line x1="558.30" y1="245.70" x2="578.00" y2="245.70" stroke="#555" stroke-width="1.5" />
<line x1="567.60" y1="181.00" x2="619.30" y2="181.00" stroke="#3c3c3c" stroke-width="1.0" />
<line x1="567.30" y1="310.00" x2="619.50" y2="310.00" stroke="#3c3c3c" stroke-width="1.0" />
<line x1="569.00" y1="191.40" x2="591.70" y2="191.40" stroke="#3c3c3c" stroke-width="1.0" />
<line x1="569.20" y1="299.80" x2="591.70" y2="299.80" stroke="#3c3c3c" stroke-width="1.0" />
<path d="M675.00,156.40 L588.30,156.40 L588.30,191.00" stroke="#3c3c3c" stroke-width="1.0" fill="none" />
<path d="M588.30,191.40 L586.30,181.40 L590.30,181.40 Z" fill="#222"/>
<line x1="588.30" y1="299.80" x2="588.30" y2="321.70" stroke="#3c3c3c" stroke-width="1.0" />
<path d="M588.30,299.80 L590.30,309.80 L586.30,309.80 Z" fill="#222"/>
<text transform="translate(634.6 122.0) scale(1 1.0)" font-size="22.5" text-anchor="middle" fill="#2b2b2b" stroke="#2b2b2b" stroke-width="0.35" >30(emitting</text>
<text transform="translate(635.1 147.2) scale(1 1.0)" font-size="22.5" text-anchor="middle" fill="#2b2b2b" stroke="#2b2b2b" stroke-width="0.35" >surface)</text>
<line x1="615.60" y1="181.00" x2="615.60" y2="310.00" stroke="#3c3c3c" stroke-width="1.0" />
<path d="M615.60,181.00 L617.60,191.00 L613.60,191.00 Z" fill="#222"/>
<path d="M615.60,310.00 L613.60,300.00 L617.60,300.00 Z" fill="#222"/>
<text transform="translate(612.0 249.7) rotate(-90) scale(1 1.0)" font-size="22.5" text-anchor="middle" fill="#2b2b2b" stroke="#2b2b2b" stroke-width="0.35" >36</text>
<path d="M547.3,310.5 L547.3,364.5 Q547.3,379.5 532.3,379.5 L496.5,379.5" stroke="#555" stroke-width="1.3" fill="none" />
<path d="M561.8,310.5 L561.8,380 Q561.8,394.3 547.5,394.3 L499.5,394.3" stroke="#555" stroke-width="1.3" fill="none" />
<path d="M496.5,379.5 Q501.5,386 498.8,390 Q497.5,392.5 499.5,394.3" stroke="#444" stroke-width="1.1" fill="none" />
<path d="M438.3,379.5 L492.2,379.5 Q497,386 494.5,390 Q493,392.5 494.8,394.3 L438.3,394.3" stroke="#555" stroke-width="1.3" fill="none" />
<path d="M348.30,370.60 L386.60,370.60 L386.60,406.90 L348.30,406.90 L348.30,398.50 L363.60,398.50 L363.60,378.60 L348.30,378.60 L348.30,370.60" stroke="#444" stroke-width="1.3" fill="none" />
<line x1="356.10" y1="392.20" x2="363.00" y2="392.20" stroke="#555" stroke-width="1.6" />
<line x1="386.60" y1="377.20" x2="433.70" y2="377.20" stroke="#555" stroke-width="1.5" />
<line x1="386.60" y1="400.00" x2="438.30" y2="400.00" stroke="#555" stroke-width="1.5" />
<path d="M433.7,377.2 L433.7,373.6 Q433.7,372.4 435,372.4 L437.1,372.4 Q438.3,372.4 438.3,373.6 L438.3,400" stroke="#444" stroke-width="1.3" fill="none" />
<line x1="390.20" y1="400.00" x2="390.20" y2="407.50" stroke="#555" stroke-width="1.2" />
<line x1="398.00" y1="400.00" x2="398.00" y2="407.50" stroke="#555" stroke-width="1.2" />
<rect x="366.4" y="410.6" width="49.4" height="3.6" fill="#9a9a9a"/>
<path d="M366.40,407.40 L419.00,407.40 L420.50,409.00 L420.50,415.50 L416.00,415.50 L416.00,413.40 L366.40,413.40 L366.40,407.40" stroke="#666" stroke-width="1.5" fill="none" />
<line x1="439.40" y1="397.80" x2="491.70" y2="474.20" stroke="#3c3c3c" stroke-width="1.3" />
<line x1="564.00" y1="314.20" x2="615.00" y2="390.40" stroke="#3c3c3c" stroke-width="1.3" />
<line x1="491.00" y1="471.20" x2="612.00" y2="389.50" stroke="#3c3c3c" stroke-width="1.3" />
<path d="M491.00,471.20 L498.17,463.95 L500.41,467.26 Z" fill="#222"/>
<path d="M612.00,389.50 L604.83,396.75 L602.59,393.44 Z" fill="#222"/>
<text transform="translate(548.3 427.3) rotate(-34.0) scale(1 1.0)" font-size="22.5" text-anchor="middle" fill="#2b2b2b" stroke="#2b2b2b" stroke-width="0.35" >500</text>
<line x1="711.90" y1="104.40" x2="711.90" y2="178.00" stroke="#3c3c3c" stroke-width="1.0" />
<line x1="806.20" y1="104.40" x2="806.20" y2="181.00" stroke="#3c3c3c" stroke-width="1.0" />
<line x1="711.90" y1="108.50" x2="806.20" y2="108.50" stroke="#3c3c3c" stroke-width="1.0" />
<path d="M712.00,108.50 L722.00,106.50 L722.00,110.50 Z" fill="#222"/>
<path d="M806.00,108.50 L796.00,110.50 L796.00,106.50 Z" fill="#222"/>
<text transform="translate(759.8 102.9) scale(1 1.0)" font-size="22.5" text-anchor="middle" fill="#2b2b2b" stroke="#2b2b2b" stroke-width="0.35" >26</text>
<line x1="766.40" y1="134.50" x2="766.40" y2="235.60" stroke="#777" stroke-width="1.8" />
<line x1="711.90" y1="138.60" x2="766.40" y2="138.60" stroke="#3c3c3c" stroke-width="1.0" />
<path d="M712.00,138.60 L722.00,136.60 L722.00,140.60 Z" fill="#222"/>
<path d="M766.00,138.60 L756.00,140.60 L756.00,136.60 Z" fill="#222"/>
<text transform="translate(737.3 136.0) scale(1 1.0)" font-size="22.5" text-anchor="middle" fill="#2b2b2b" stroke="#2b2b2b" stroke-width="0.35" >15</text>
<line x1="734.50" y1="162.60" x2="734.50" y2="181.00" stroke="#3c3c3c" stroke-width="1.0" />
<line x1="690.30" y1="166.80" x2="712.00" y2="166.80" stroke="#3c3c3c" stroke-width="1.0" />
<path d="M712.00,166.80 L702.00,168.80 L702.00,164.80 Z" fill="#222"/>
<line x1="734.50" y1="166.80" x2="755.00" y2="166.80" stroke="#3c3c3c" stroke-width="1.0" />
<path d="M734.50,166.80 L744.50,164.80 L744.50,168.80 Z" fill="#222"/>
<text transform="translate(723.4 170.3) scale(1 1.0)" font-size="22.5" text-anchor="middle" fill="#2b2b2b" stroke="#2b2b2b" stroke-width="0.35" >6</text>
<text transform="translate(907.1 175.4) scale(1 1.0)" font-size="22.5" text-anchor="end" fill="#2b2b2b" stroke="#2b2b2b" stroke-width="0.35" >2×4-M3</text>
<text transform="translate(907.1 200.4) scale(1 1.0)" font-size="22.5" text-anchor="end" fill="#2b2b2b" stroke="#2b2b2b" stroke-width="0.35" >depth5</text>
<path d="M910.30,207.30 L820.00,207.30 L771.50,241.30" stroke="#3c3c3c" stroke-width="1.2" fill="none" />
<path d="M771.50,241.30 L778.54,233.92 L780.84,237.20 Z" fill="#222"/>
<line x1="733.70" y1="181.30" x2="805.40" y2="181.30" stroke="#4a4a4a" stroke-width="2.2" />
<line x1="805.40" y1="181.30" x2="805.40" y2="310.00" stroke="#4a4a4a" stroke-width="2.2" />
<line x1="732.60" y1="310.00" x2="805.40" y2="310.00" stroke="#4a4a4a" stroke-width="2.2" />
<line x1="748.30" y1="191.50" x2="805.40" y2="191.50" stroke="#4a4a4a" stroke-width="2.0" />
<line x1="748.30" y1="181.30" x2="748.30" y2="300.00" stroke="#555" stroke-width="2.0" />
<line x1="737.70" y1="300.00" x2="805.40" y2="300.00" stroke="#4a4a4a" stroke-width="1.6" />
<rect x="748.3" y="191.5" width="14.3" height="6.5" fill="none" stroke="#444" stroke-width="1.4"/>
<rect x="761.7" y="187.2" width="7" height="4.3" fill="none" stroke="#888" stroke-width="1"/>
<rect x="796" y="187.7" width="7.5" height="3.8" fill="#bbb" stroke="#999" stroke-width="0.8"/>
<rect x="760.9" y="300" width="7.8" height="3.2" fill="none" stroke="#777" stroke-width="1"/>
<rect x="795.4" y="300" width="7.8" height="3.2" fill="none" stroke="#777" stroke-width="1"/>
<path d="M712.80,181.00 L720.00,181.00 L720.00,185.60 L716.90,185.60 L716.90,194.00 L720.30,194.00 L720.30,198.50 L733.70,198.50" stroke="#4a4a4a" stroke-width="1.8" fill="none" />
<path d="M733.70,181.00 L733.70,186.30 L737.20,186.30 L737.20,195.20 L733.70,195.20 L733.70,210.30" stroke="#555" stroke-width="1.5" fill="none" />
<path d="M712.80,181.00 L712.80,213.30 L716.40,213.30 L716.40,210.20 L725.00,210.20 L729.50,215.10" stroke="#4a4a4a" stroke-width="1.8" fill="none" />
<path d="M729.50,226.10 L725.00,230.00 L716.40,230.00 L716.40,226.90 L712.80,226.90 L712.80,238.60 L716.40,238.60 L716.40,235.50 L725.00,235.50 L729.50,240.40" stroke="#4a4a4a" stroke-width="1.8" fill="none" />
<path d="M729.50,251.40 L725.00,255.30 L716.40,255.30 L716.40,252.20 L712.80,252.20 L712.80,263.70 L716.40,263.70 L716.40,260.60 L725.00,260.60 L729.50,265.50" stroke="#4a4a4a" stroke-width="1.8" fill="none" />
<path d="M729.50,276.50 L725.00,280.40 L716.40,280.40 L716.40,277.30 L712.80,277.30 L712.80,310.00 L720.40,310.00 L720.40,306.70 L716.50,306.70 L716.50,297.70 L720.00,297.70 L720.00,292.60 L733.00,292.60 L733.00,297.70 L737.30,297.70 L737.30,306.70 L732.60,306.70 L732.60,310.00" stroke="#4a4a4a" stroke-width="1.8" fill="none" />
<circle cx="734.3" cy="220.6" r="4.1" fill="none" stroke="#222" stroke-width="2"/>
<line x1="730.00" y1="220.60" x2="738.60" y2="220.60" stroke="#555" stroke-width="1" />
<line x1="734.30" y1="216.60" x2="734.30" y2="224.60" stroke="#555" stroke-width="1" />
<circle cx="734.3" cy="245.9" r="4.1" fill="none" stroke="#222" stroke-width="2"/>
<line x1="730.00" y1="245.90" x2="738.60" y2="245.90" stroke="#555" stroke-width="1" />
<line x1="734.30" y1="241.90" x2="734.30" y2="249.90" stroke="#555" stroke-width="1" />
<circle cx="734.3" cy="271.0" r="4.1" fill="none" stroke="#222" stroke-width="2"/>
<line x1="730.00" y1="271.00" x2="738.60" y2="271.00" stroke="#555" stroke-width="1" />
<line x1="734.30" y1="267.00" x2="734.30" y2="275.00" stroke="#555" stroke-width="1" />
<circle cx="766.4" cy="245.4" r="4.7" fill="none" stroke="#222" stroke-width="1.8"/>
<circle cx="766.4" cy="245.4" r="1.9" fill="none" stroke="#666" stroke-width="1.1"/>
<line x1="743.30" y1="220.60" x2="836.30" y2="220.60" stroke="#3c3c3c" stroke-width="1.0" />
<line x1="744.00" y1="271.20" x2="836.30" y2="271.20" stroke="#3c3c3c" stroke-width="1.0" />
<line x1="832.30" y1="220.60" x2="832.30" y2="271.20" stroke="#3c3c3c" stroke-width="1.0" />
<path d="M832.30,220.60 L834.10,228.60 L830.50,228.60 Z" fill="#222"/>
<path d="M832.30,271.20 L830.50,263.20 L834.10,263.20 Z" fill="#222"/>
<text transform="translate(828.4 246.0) rotate(-90) scale(1 1.0)" font-size="22.5" text-anchor="middle" fill="#2b2b2b" stroke="#2b2b2b" stroke-width="0.35" textLength="22" lengthAdjust="spacingAndGlyphs">14</text>
<line x1="706.00" y1="245.70" x2="726.30" y2="245.70" stroke="#555" stroke-width="1.3" />
<line x1="728.80" y1="245.70" x2="753.90" y2="245.70" stroke="#555" stroke-width="1.3" />
<line x1="757.80" y1="245.70" x2="781.60" y2="245.70" stroke="#555" stroke-width="1.3" />
<line x1="785.20" y1="245.70" x2="788.90" y2="245.70" stroke="#555" stroke-width="1.3" />
<line x1="792.00" y1="245.70" x2="812.00" y2="245.70" stroke="#555" stroke-width="1.3" />
<line x1="726.50" y1="288.20" x2="726.50" y2="346.00" stroke="#3c3c3c" stroke-width="1.0" />
<line x1="711.60" y1="310.00" x2="711.60" y2="346.00" stroke="#3c3c3c" stroke-width="1.0" />
<line x1="693.90" y1="341.70" x2="711.60" y2="341.70" stroke="#3c3c3c" stroke-width="1.0" />
<path d="M711.60,341.70 L701.60,343.70 L701.60,339.70 Z" fill="#222"/>
<line x1="726.50" y1="341.70" x2="753.00" y2="341.70" stroke="#3c3c3c" stroke-width="1.0" />
<path d="M726.50,341.70 L736.50,339.70 L736.50,343.70 Z" fill="#222"/>
<text transform="translate(743.2 338.2) scale(1 1.0)" font-size="22.5" text-anchor="middle" fill="#2b2b2b" stroke="#2b2b2b" stroke-width="0.35" >4</text>
<circle cx="725.8" cy="302.3" r="20.2" fill="none" stroke="#555" stroke-width="1.1" stroke-dasharray="6 3.5"/>
<text transform="translate(680.6 283.7) scale(1 1.0)" font-size="22.5" text-anchor="middle" fill="#2b2b2b" stroke="#2b2b2b" stroke-width="0.35" >A</text>
<path d="M670.60,287.50 L688.20,287.50 L705.10,300.80" stroke="#3c3c3c" stroke-width="1.3" fill="none" />
<path d="M705.10,300.80 L696.00,296.19 L698.48,293.04 Z" fill="#222"/>
<circle cx="744.8" cy="425.4" r="60.3" fill="none" stroke="#666" stroke-width="1"/>
<path d="M728.20,456.00 L728.20,438.20 L716.60,438.20 L716.60,409.20 L728.20,409.20 L728.20,398.10 L768.90,398.10 L768.90,409.20 L780.10,409.20 L780.10,437.90 L768.90,437.90 L768.90,456.00" stroke="#444" stroke-width="1.3" fill="none" />
<line x1="701.90" y1="383.00" x2="701.90" y2="449.70" stroke="#444" stroke-width="1.3" />
<line x1="707.40" y1="378.20" x2="707.40" y2="449.70" stroke="#444" stroke-width="1.3" />
<path d="M701.90,449.70 L707.60,456.00 L728.20,456.00" stroke="#444" stroke-width="1.3" fill="none" />
<line x1="701.90" y1="449.70" x2="728.20" y2="449.70" stroke="#444" stroke-width="1.3" />
<line x1="768.90" y1="449.70" x2="797.00" y2="449.70" stroke="#444" stroke-width="1.3" />
<line x1="768.90" y1="455.90" x2="797.00" y2="455.90" stroke="#444" stroke-width="1.3" />
<line x1="804.10" y1="455.90" x2="893.20" y2="455.90" stroke="#3c3c3c" stroke-width="1.0" />
<line x1="779.70" y1="420.70" x2="805.00" y2="420.70" stroke="#444" stroke-width="1.3" />
<line x1="775.00" y1="398.10" x2="893.20" y2="398.10" stroke="#3c3c3c" stroke-width="1.0" />
<line x1="786.30" y1="409.40" x2="857.60" y2="409.40" stroke="#3c3c3c" stroke-width="1.0" />
<line x1="786.30" y1="437.90" x2="857.60" y2="437.90" stroke="#3c3c3c" stroke-width="1.0" />
<path d="M882.00,381.30 L852.30,381.30 L852.30,409.40" stroke="#3c3c3c" stroke-width="1.0" fill="none" />
<path d="M852.30,409.40 L850.20,395.40 L854.40,395.40 Z" fill="#222"/>
<line x1="852.30" y1="437.90" x2="852.30" y2="466.60" stroke="#3c3c3c" stroke-width="1.0" />
<path d="M852.30,437.90 L854.40,451.90 L850.20,451.90 Z" fill="#222"/>
<line x1="834.70" y1="409.40" x2="834.70" y2="437.90" stroke="#3c3c3c" stroke-width="1.0" />
<path d="M834.70,437.90 L832.60,423.90 L836.80,423.90 Z" fill="#222"/>
<path d="M805.00,483.50 L834.70,483.50 L834.70,455.90" stroke="#3c3c3c" stroke-width="1.0" fill="none" />
<path d="M834.70,455.90 L836.80,469.90 L832.60,469.90 Z" fill="#222"/>
<line x1="887.60" y1="398.10" x2="887.60" y2="455.90" stroke="#3c3c3c" stroke-width="1.0" />
<path d="M887.60,398.10 L889.70,412.10 L885.50,412.10 Z" fill="#222"/>
<path d="M887.60,455.90 L885.50,441.90 L889.70,441.90 Z" fill="#222"/>
<line x1="716.40" y1="444.30" x2="716.40" y2="557.60" stroke="#3c3c3c" stroke-width="1.0" />
<line x1="780.10" y1="444.10" x2="780.10" y2="557.60" stroke="#3c3c3c" stroke-width="1.0" />
<line x1="728.20" y1="461.50" x2="728.20" y2="525.60" stroke="#3c3c3c" stroke-width="1.0" />
<line x1="768.90" y1="462.00" x2="768.90" y2="525.60" stroke="#3c3c3c" stroke-width="1.0" />
<line x1="728.20" y1="520.90" x2="768.90" y2="520.90" stroke="#3c3c3c" stroke-width="1.0" />
<path d="M728.20,520.90 L742.20,518.70 L742.20,523.10 Z" fill="#222"/>
<path d="M768.90,520.90 L754.90,523.10 L754.90,518.70 Z" fill="#222"/>
<line x1="716.40" y1="552.20" x2="780.10" y2="552.20" stroke="#3c3c3c" stroke-width="1.0" />
<path d="M716.40,552.20 L730.40,550.00 L730.40,554.40 Z" fill="#222"/>
<path d="M780.10,552.20 L766.10,554.40 L766.10,550.00 Z" fill="#222"/>
<text transform="translate(868.5 376.9) scale(1 1.0)" font-size="16" text-anchor="middle" fill="#2b2b2b" stroke="#2b2b2b" stroke-width="0.35" >2. 5</text>
<text transform="translate(818.2 480.2) scale(1 0.97)" font-size="15" text-anchor="middle" fill="#2b2b2b" stroke="#2b2b2b" stroke-width="0.35" >1. 5</text>
<text transform="translate(748 516.6) scale(1 0.97)" font-size="15" text-anchor="middle" fill="#2b2b2b" stroke="#2b2b2b" stroke-width="0.35" >3. 5</text>
<text transform="translate(748.5 549.3) scale(1 0.97)" font-size="15" text-anchor="middle" fill="#2b2b2b" stroke="#2b2b2b" stroke-width="0.35" >5. 5</text>
<text transform="translate(882.2 426.4) rotate(-90) scale(1 1.0)" font-size="17.5" text-anchor="middle" fill="#2b2b2b" stroke="#2b2b2b" stroke-width="0.35" >5</text>
</svg></body></html>
